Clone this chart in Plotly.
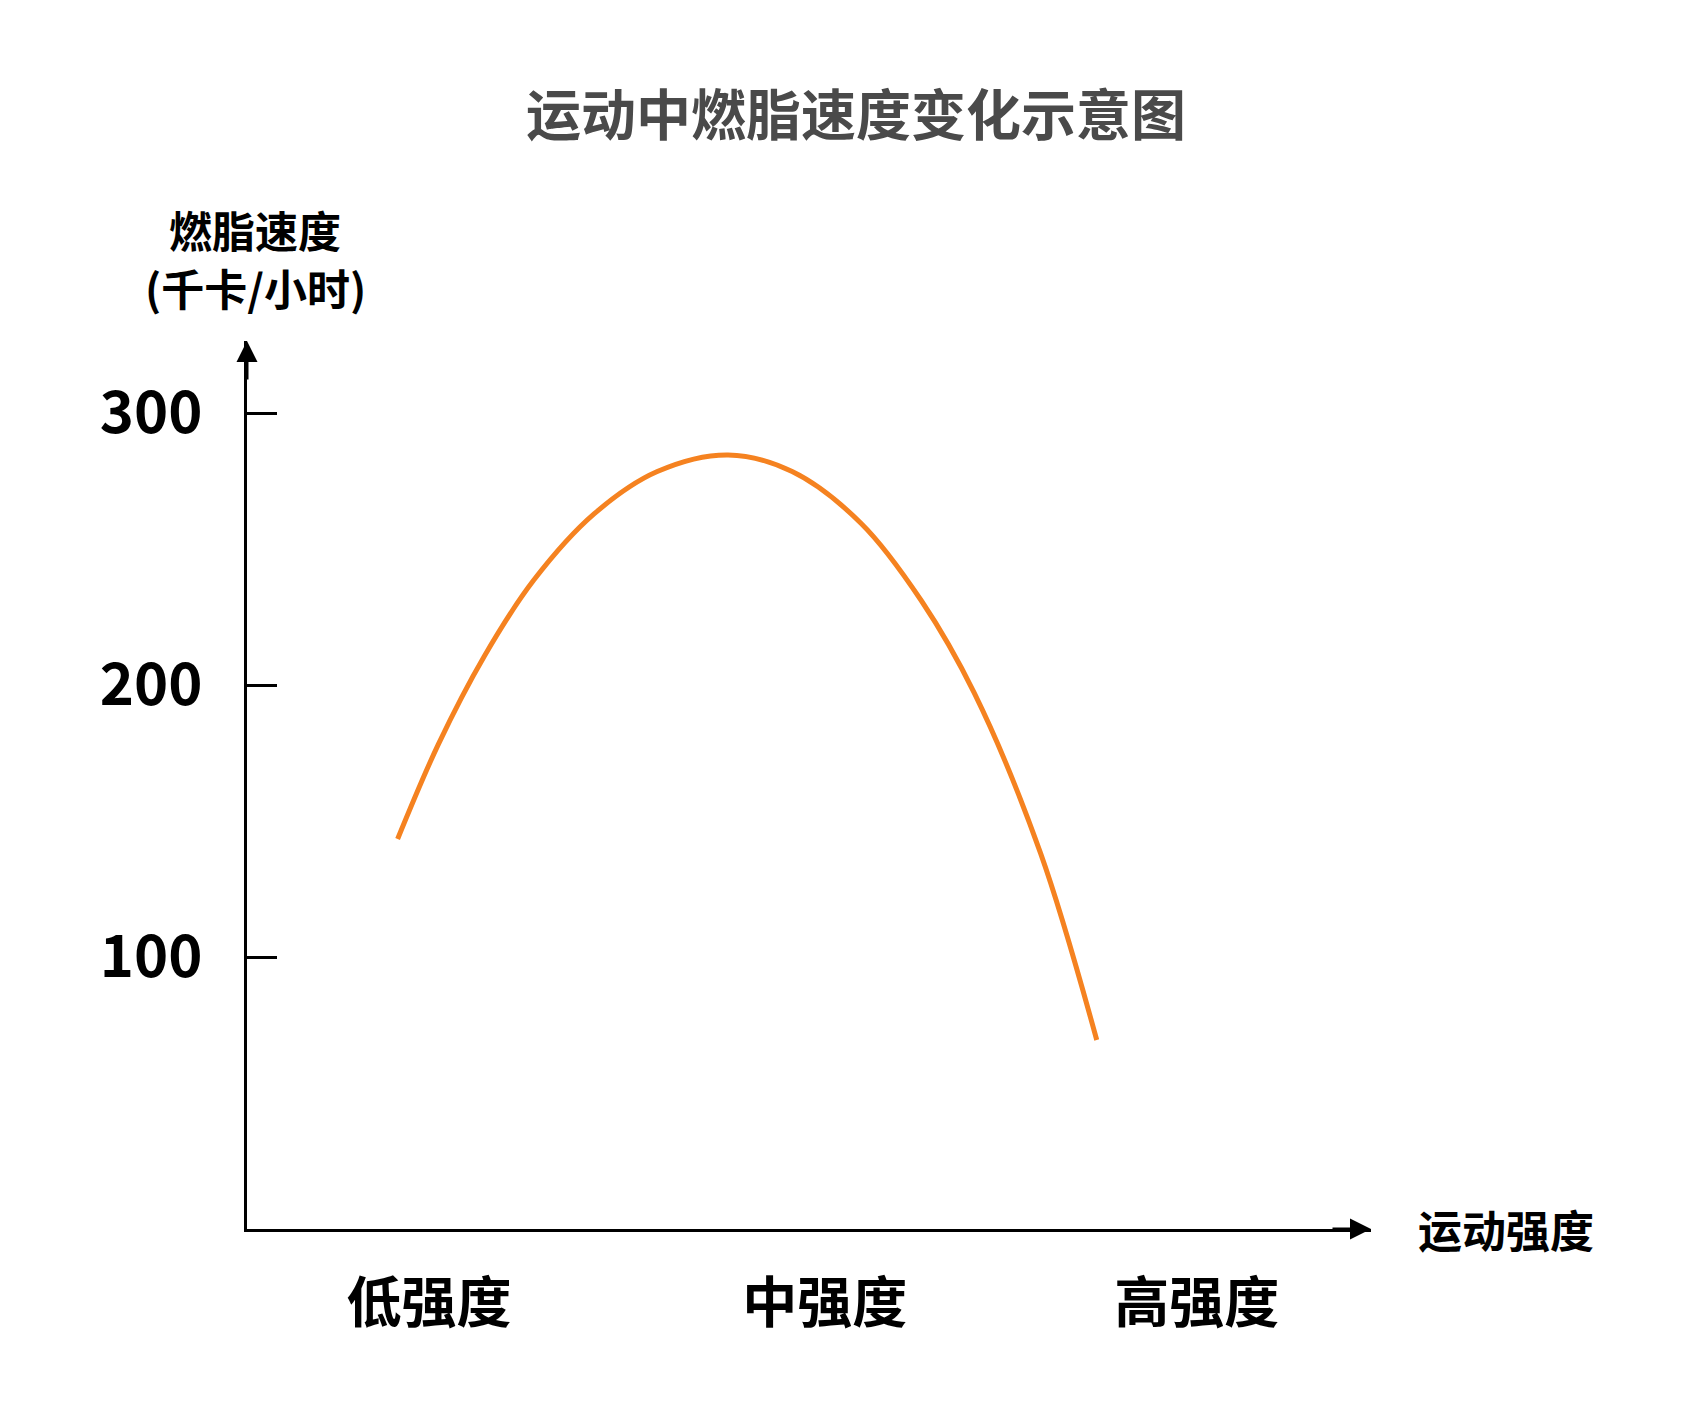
import plotly.graph_objects as go

# Curve data (exercise intensity 0-100 scale, fat burning kcal/h)
intensity = [13.4, 17.0, 21.1, 25.5, 30.9, 36.5, 42.8, 48.5, 54.6, 60.0, 64.7, 70.6, 75.6]
burn_rate = [143.4, 178.0, 210.5, 238.5, 263.0, 278.5, 284.6, 278.5, 259.6, 231.0, 197.1, 138.2, 69.5]

x_tick_vals = [16.2, 51.4, 84.5]
x_tick_text = ["低强度", "中强度", "高强度"]
y_tick_vals = [100, 200, 300]
y_tick_text = ["100", "200", "300"]

X_MAX = 100
Y_MAX = 326.5

FONT = "Noto Sans CJK SC"

fig = go.Figure()
fig.add_trace(go.Scatter(
    x=intensity, y=burn_rate, mode="lines",
    line=dict(color="#F58220", width=5, shape="spline", smoothing=1.0),
    hoverinfo="skip", showlegend=False,
))

fig.update_layout(
    width=1682, height=1407,
    margin=dict(l=247, r=311, t=341, b=178),
    paper_bgcolor="white", plot_bgcolor="white",
    title=dict(
        text="运动中燃脂速度变化示意图",
        x=856 / 1682, xanchor="center", xref="container",
        y=1 - 116 / 1407, yanchor="middle", yref="container",
        font=dict(family=FONT, size=55, color="#4a4a4a", weight="bold"),
    ),
    showlegend=False,
)

fig.update_xaxes(
    range=[0, X_MAX], showgrid=False, zeroline=False,
    showline=True, linecolor="black", linewidth=3,
    ticks="", tickvals=x_tick_vals, ticktext=x_tick_text,
    tickfont=dict(family=FONT, size=55, color="black", weight="bold"),
    ticklabelstandoff=24,
)
fig.update_yaxes(
    range=[0, Y_MAX], showgrid=False, zeroline=False,
    showline=True, linecolor="black", linewidth=3,
    ticks="inside", ticklen=30, tickwidth=2.5, tickcolor="black",
    tickvals=y_tick_vals, ticktext=y_tick_text,
    tickfont=dict(family=FONT, size=58, color="black", weight="bold"),
    ticklabelstandoff=30,
)

# Axis arrowheads
fig.add_annotation(x=X_MAX, y=0, xref="x", yref="y", ax=-40, ay=0,
                   text="", showarrow=True, arrowhead=2, arrowsize=1.4,
                   arrowwidth=3, arrowcolor="black")
fig.add_annotation(x=0, y=Y_MAX, xref="x", yref="y", ax=0, ay=40,
                   text="", showarrow=True, arrowhead=2, arrowsize=1.4,
                   arrowwidth=3, arrowcolor="black")

# Axis titles
fig.add_annotation(
    x=(255 - 247) / 1124, y=(1229 - 229) / 888, xref="paper", yref="paper",
    text="燃脂速度", showarrow=False,
    xanchor="center", yanchor="middle",
    font=dict(family=FONT, size=43, color="black", weight="bold"),
)
fig.add_annotation(
    x=(255 - 247) / 1124, y=(1229 - 287) / 888, xref="paper", yref="paper",
    text="(千卡/小时)", showarrow=False,
    xanchor="center", yanchor="middle",
    font=dict(family=FONT, size=43, color="black", weight="bold"),
)
fig.add_annotation(
    x=(1416 - 247) / 1124, y=0, xref="paper", yref="paper",
    text="运动强度", showarrow=False,
    xanchor="left", yanchor="middle",
    font=dict(family=FONT, size=44, color="black", weight="bold"),
)

fig.write_html("out.html")
